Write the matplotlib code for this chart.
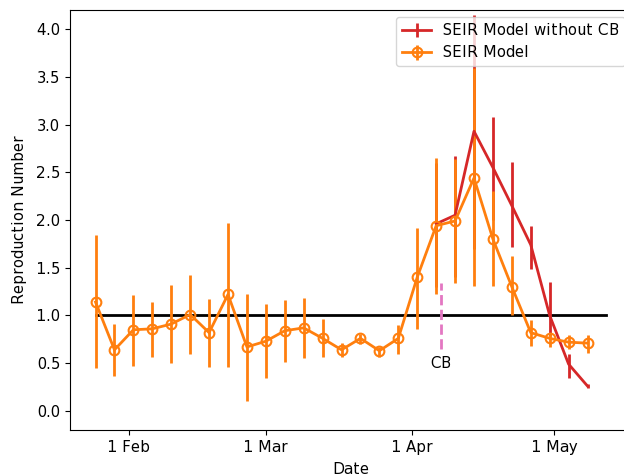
import numpy as np
import pandas as pd
import matplotlib
matplotlib.use("Agg")
import matplotlib.pyplot as plt
import matplotlib.dates as mdates

plt.rcParams["text.hinting"] = "auto"
plt.rcParams["text.hinting_factor"] = 1
plt.rcParams["font.size"] = 10.5

# SEIR model estimates, every 4 days from 25 Jan 2020
dates = pd.date_range("2020-01-25", periods=27, freq="4D")
r_mid = [1.14, 0.64, 0.85, 0.86, 0.91, 1.01, 0.82, 1.22, 0.67,
         0.73, 0.84, 0.87, 0.76, 0.64, 0.76, 0.63, 0.76, 1.40,
         1.94, 1.99, 2.44, 1.80, 1.30, 0.82, 0.76, 0.72, 0.71]
r_low = [0.45, 0.37, 0.47, 0.57, 0.50, 0.60, 0.46, 0.46, 0.10,
         0.35, 0.51, 0.55, 0.56, 0.56, 0.70, 0.57, 0.60, 0.86,
         1.23, 1.34, 1.31, 1.31, 1.00, 0.68, 0.67, 0.65, 0.61]
r_high = [1.84, 0.91, 1.21, 1.14, 1.32, 1.42, 1.17, 1.97, 1.22,
          1.12, 1.16, 1.18, 0.96, 0.71, 0.81, 0.67, 0.90, 1.92,
          2.65, 2.64, 3.59, 2.30, 1.62, 0.95, 0.81, 0.80, 0.80]

# model without circuit breaker, from 6 Apr
nocb_dates = pd.date_range("2020-04-06", periods=9, freq="4D")
nocb_mid = [1.96, 2.05, 2.93, 2.55, 2.15, 1.74, 1.00, 0.49, 0.26]
nocb_low = [1.30, 1.40, 1.70, 2.00, 1.72, 1.49, 0.78, 0.34, 0.235]
nocb_high = [2.60, 2.67, 4.15, 3.08, 2.61, 1.94, 1.35, 0.60, 0.28]

cb_date = pd.Timestamp("2020-04-07")
ref_end = pd.Timestamp("2020-05-12")


def asym_err(mid, low, high):
    mid = np.array(mid)
    return [mid - np.array(low), np.array(high) - mid]


fig = plt.figure(figsize=(6.24, 4.76), dpi=100)
ax = fig.add_axes([70 / 624, 1 - 430 / 476, (632 - 70) / 624, 420 / 476])

ax.plot([dates[0], ref_end], [1, 1], color="black", lw=2)

ax.errorbar(nocb_dates, nocb_mid, yerr=asym_err(nocb_mid, nocb_low, nocb_high),
            color="tab:red", lw=2, elinewidth=2, label="SEIR Model without CB")
ax.errorbar(dates, r_mid, yerr=asym_err(r_mid, r_low, r_high),
            color="tab:orange", lw=2, elinewidth=2, marker="o", markersize=7,
            markerfacecolor="none", markeredgewidth=1.5, label="SEIR Model")

ax.plot([cb_date, cb_date], [0.65, 1.34], color="tab:pink", lw=2, linestyle="--")
ax.text(cb_date, 0.5, "CB", ha="center", va="center")

ax.set_ylim(-0.2, 4.2)
ax.xaxis.set_major_locator(mdates.MonthLocator())
ax.xaxis.set_major_formatter(mdates.DateFormatter("%-d %b"))
ax.set_xlabel("Date", labelpad=5.5)
ax.set_ylabel("Reproduction Number", labelpad=6.5)
ax.legend(loc="upper right")

fig.savefig("out.png", dpi=100)
